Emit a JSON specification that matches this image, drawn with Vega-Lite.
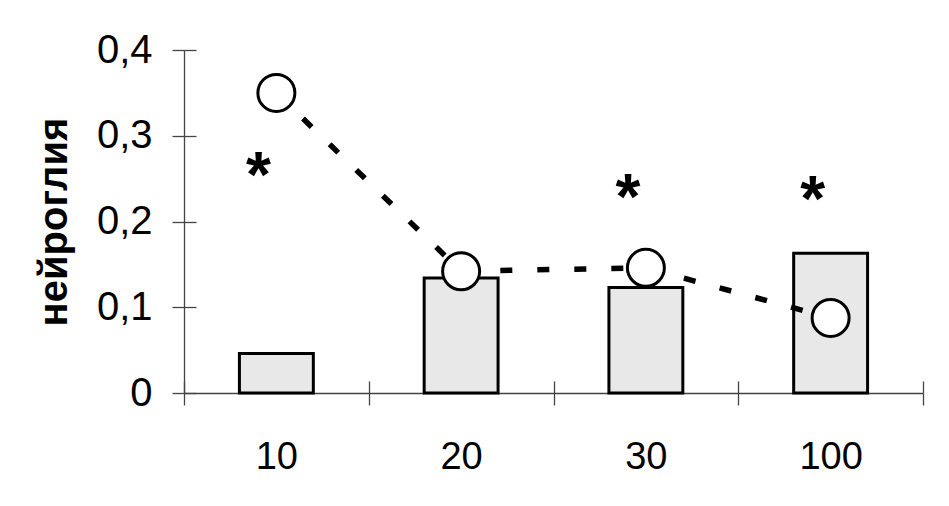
{
  "$schema": "https://vega.github.io/schema/vega-lite/v6.json",
  "width": 739,
  "height": 343,
  "autosize": "none",
  "padding": {"left": 184, "top": 50, "right": 26, "bottom": 113},
  "background": "white",
  "config": {
    "view": {"stroke": null},
    "font": "Liberation Sans"
  },
  "data": {
    "values": [
      {"c": "10", "bar": 0.046, "pt": 0.35, "star": 0.265},
      {"c": "20", "bar": 0.134, "pt": 0.142, "star": null},
      {"c": "30", "bar": 0.123, "pt": 0.146, "star": 0.239},
      {"c": "100", "bar": 0.163, "pt": 0.0875, "star": 0.237}
    ]
  },
  "encoding": {
    "x": {
      "field": "c",
      "type": "ordinal",
      "sort": null,
      "scale": {"paddingInner": 0, "paddingOuter": 0}
    }
  },
  "layer": [
    {
      "mark": {"type": "bar", "fill": "#e8e8e8", "stroke": "#000000", "strokeWidth": 3, "width": {"band": 0.4}},
      "encoding": {
        "x": {
          "field": "c", "type": "ordinal", "sort": null,
          "axis": {
            "orient": "bottom", "title": null, "tickBand": "extent",
            "labelAngle": 0, "labelFont": "Liberation Sans", "labelFontSize": 38, "labelColor": "#000000",
            "labelPadding": 33, "tickSize": 12, "tickColor": "#444444", "tickWidth": 1.3,
            "domainColor": "#444444", "domainWidth": 1.3, "grid": false
          }
        },
        "y": {
          "field": "bar", "type": "quantitative",
          "scale": {"domain": [0, 0.4], "nice": false, "zero": true},
          "axis": {
            "orient": "left", "title": "нейроглия", "values": [0, 0.1, 0.2, 0.3, 0.4],
            "labelExpr": "datum.value == 0 ? '0' : replace(format(datum.value, '.1f'), '.', ',')",
            "labelFont": "Liberation Sans", "labelFontSize": 40, "labelColor": "#000000", "labelPadding": 20,
            "tickSize": 12, "tickColor": "#444444", "tickWidth": 1.3,
            "domainColor": "#444444", "domainWidth": 1.3, "grid": false,
            "titleFont": "Liberation Sans", "titleFontSize": 40, "titleFontWeight": "bold", "titleColor": "#000000",
            "titlePadding": 22
          }
        }
      }
    },
    {
      "mark": {"type": "line", "stroke": "#000000", "strokeWidth": 5.5, "strokeDash": [12, 25]},
      "encoding": {
        "x": {
          "field": "c", "type": "ordinal", "sort": null,
          "axis": {
            "orient": "top", "offset": -343, "title": null, "tickBand": "extent", "labels": false, "domain": false,
            "tickSize": 12, "tickColor": "#444444", "tickWidth": 1.3, "grid": false
          }
        },
        "y": {
          "field": "pt", "type": "quantitative",
          "axis": {
            "orient": "right", "offset": -739, "title": null, "values": [0, 0.1, 0.2, 0.3, 0.4], "labels": false, "domain": false,
            "tickSize": 12, "tickColor": "#444444", "tickWidth": 1.3, "grid": false
          }
        }
      }
    },
    {
      "mark": {"type": "point", "shape": "circle", "filled": true, "fill": "#ffffff", "stroke": "#000000", "strokeWidth": 3, "size": 1369, "opacity": 1},
      "encoding": {
        "x": {"field": "c", "type": "ordinal", "sort": null, "axis": null},
        "y": {"field": "pt", "type": "quantitative", "axis": null}
      }
    },
    {
      "transform": [{"filter": {"field": "star", "valid": true}}],
      "mark": {"type": "text", "text": "*", "font": "Liberation Sans", "fontSize": 64, "fontWeight": "bold", "color": "#000000", "baseline": "middle", "align": "center", "dx": -18, "dy": 12},
      "encoding": {
        "x": {"field": "c", "type": "ordinal", "sort": null, "axis": null},
        "y": {"field": "star", "type": "quantitative", "axis": null}
      }
    }
  ],
  "resolve": {"axis": {"x": "independent", "y": "independent"}}
}
